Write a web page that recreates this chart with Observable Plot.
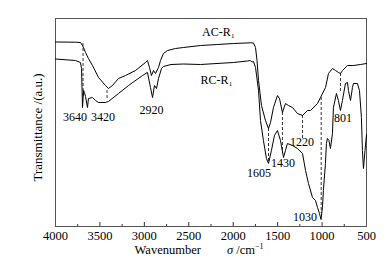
<!DOCTYPE html>
<html><head><meta charset="utf-8">
<script src="https://cdn.jsdelivr.net/npm/d3@7"></script>
<script src="https://cdn.jsdelivr.net/npm/@observablehq/plot@0.6"></script>
<style>body{margin:0;background:#fff}</style>
</head><body><div id="chart"></div>
<script>
// AC-R1 spectrum (wavenumber, transmittance a.u.)
const acWn = [4000,3775,3719,3696,3662,3629,3584,3516,3437,3404,3359,3291,3212,3100,2987,2965,2942,2920,2897,2875,2841,2818,2785,2740,2650,2560,2368,2177,1997,1806,1772,1749,1732,1715,1682,1637,1603,1580,1547,1502,1479,1446,1412,1378,1333,1277,1220,1164,1130,1051,1018,961,928,883,849,815,793,770,714,646,567,500];
const acT = [184.5,184.3,184,181,174,168,161,149,141,138,141,148,151,156,164,166,159,151,156,153,159,166,173,176,178,179,181,182,183,183.7,183.5,179,166,146,121,106,98,104,119,131,128,114,123,121,119,113,111,116,116,123,129,139,153,158,156,154,153,156,161,161,162,163];
// RC-R1 spectrum
const rcWn = [4000,3775,3719,3707,3696,3684,3674,3662,3640,3629,3584,3550,3516,3440,3404,3291,3178,3021,2965,2931,2908,2886,2863,2841,2807,2785,2700,2560,2368,2000,1840,1806,1790,1772,1749,1715,1693,1660,1626,1603,1570,1536,1502,1468,1434,1412,1390,1333,1277,1220,1186,1153,1108,1074,1051,1029,1012,996,985,962,951,940,923,906,883,872,838,816,793,771,737,714,703,680,658,647,602,579,557,546,534,517,500];
const rcT = [167.5,166,164,158,119,136,134,130,119,128,129,126,124,124,125,133,141,151,154,139,129,141,138,148,158,160,162,162.5,162,164,165.5,166,164.5,165,159,136,106,86,68,63,76,91,96,86,69,76,83,81,78,73,56,43,29,26,19,13,7,19,36,63,83,88,86,78,93,119,133,126,116,126,143,144,136,126,139,143,143,136,109,76,58,76,92];
// dashed markers
const markWn = [3690,3420,1603,1446,1220,1010,793];
const markTop = [183,136,98,114,111,129,153];
const markBot = [129,126,63,73,88,13,133];
// peak labels
const peakText = ["3640","3420","2920","1605","1430","1220","1030","801"];
const peakWn = [3781,3465,2920,1710,1440,1226,1192,765];
const peakT = [109,109,116,53,63,84,9,108];
// series labels
const seriesText = ["AC-R₁","RC-R₁"];
const seriesWn = [2166,2188];
const seriesT = [194,146];
const majorTicks = [4000,3500,3000,2500,2000,1500,1000,500];
const minorTicks = [3750,3250,2750,2250,1750,1250,750];

const ac = acWn.map((w,i)=>({w, t: acT[i]}));
const rc = rcWn.map((w,i)=>({w, t: rcT[i]}));
const marks = markWn.map((w,i)=>({w, y1: markTop[i], y2: markBot[i]}));
const peaks = peakText.map((s,i)=>({s, w: peakWn[i], t: peakT[i]}));
const series = seriesText.map((s,i)=>({s, w: seriesWn[i], t: seriesT[i]}));

const chart = Plot.plot({
  width: 384, height: 268,
  marginLeft: 55, marginRight: 18, marginTop: 18, marginBottom: 42,
  x: {domain: [4000, 500]},
  y: {domain: [0, 208], axis: null},
  style: {fontFamily: "'Liberation Serif', serif", fontSize: "12px", color: "#000", background: "#fff"},
  marks: [
    Plot.axisX({ticks: majorTicks, tickSize: -4, tickFormat: () => "", label: null, stroke: "#333"}),
    Plot.axisX({ticks: minorTicks, tickSize: -2, tickFormat: () => "", label: null, stroke: "#333"}),
    Plot.axisX({ticks: majorTicks, tickSize: 0, tickPadding: 5, tickFormat: d => String(d), label: null, fontSize: 12.5}),
    Plot.frame({stroke: "#555"}),
    Plot.line(ac, {x: "w", y: "t", stroke: "#000", strokeWidth: 1}),
    Plot.line(rc, {x: "w", y: "t", stroke: "#000", strokeWidth: 1}),
    Plot.ruleX(marks, {x: "w", y1: "y1", y2: "y2", stroke: "#000", strokeWidth: 0.8, strokeDasharray: "3,2"}),
    Plot.text(peaks, {x: "w", y: "t", text: "s", fontSize: 12, fill: "#000"}),
    Plot.text(series, {x: "w", y: "t", text: "s", fontSize: 12, fill: "#000"}),
    Plot.text(["Wavenumber σ /cm-1"], {frameAnchor: "bottom", dy: 27, dx: -12, textAnchor: "middle", fontSize: 12.5, fill: "#000"}),
    Plot.text(["Transmittance /(a.u.)"], {frameAnchor: "left", rotate: -90, dx: -18, dy: 5, textAnchor: "middle", fontSize: 13, fill: "#000"})
  ]
});
d3.select(chart).selectAll("text").each(function() {
  if (this.textContent === "Wavenumber σ /cm-1") {
    this.innerHTML = 'Wavenumber<tspan dx="26" font-style="italic">σ</tspan> /cm<tspan dy="-5" font-size="8">−1</tspan>';
  }
});
document.getElementById("chart").appendChild(chart);
</script>
</body></html>
